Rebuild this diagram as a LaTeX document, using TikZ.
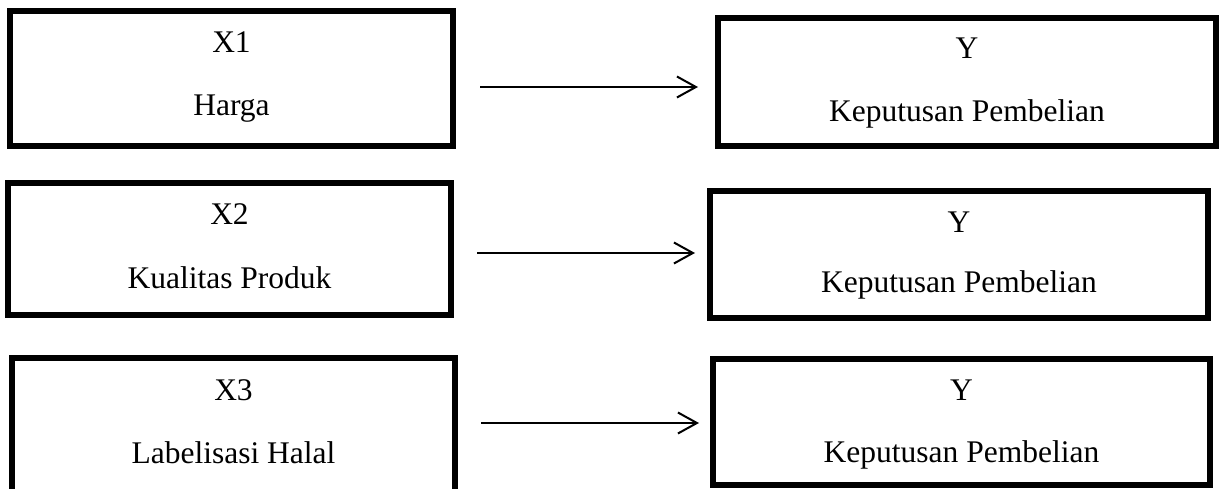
\documentclass[tikz,border=0pt]{standalone}
\usepackage{fontspec}
\setmainfont{Liberation Serif}
\usetikzlibrary{arrows.meta}

\begin{document}
\begin{tikzpicture}[x=1pt,y=-1pt,
  varbox/.style={draw=black, line width=5.5pt, inner sep=0pt, fill=white},
  lbl/.style={anchor=base, inner sep=0pt, font=\fontsize{31.5}{36}\selectfont},
  link/.style={line width=2pt, -{Straight Barb[length=19pt,width=21pt,line width=2pt]}}
]
\useasboundingbox (0,0) rectangle (1227,489);
\clip (0,0) rectangle (1227,489);

% independent variables (left column)
\node[varbox, minimum width=443pt, minimum height=135pt] (x1) at (231.5,78.5) {};
\node[varbox, minimum width=443pt, minimum height=132pt] (x2) at (229.5,249) {};
\node[varbox, minimum width=443pt, minimum height=137pt] (x3) at (233.5,426.5) {};

% dependent variable (right column)
\node[varbox, minimum width=498pt, minimum height=128pt] (y1) at (967,82) {};
\node[varbox, minimum width=498pt, minimum height=127pt] (y2) at (959,254.5) {};
\node[varbox, minimum width=497pt, minimum height=126pt] (y3) at (961.5,422) {};

% labels
\node[lbl] (x1a) at (x1.center |- 0,53)  {X1};
\node[lbl] (x1b) at (x1.center |- 0,116) {Harga};
\node[lbl] (x2a) at (x2.center |- 0,225) {X2};
\node[lbl] (x2b) at (x2.center |- 0,288) {Kualitas Produk};
\node[lbl] (x3a) at (x3.center |- 0,400) {X3};
\node[lbl] (x3b) at (x3.center |- 0,463) {Labelisasi Halal};

\node[lbl] (y1a) at (y1.center |- 0,59)  {Y};
\node[lbl] (y1b) at (y1.center |- 0,122) {Keputusan Pembelian};
\node[lbl] (y2a) at (y2.center |- 0,233) {Y};
\node[lbl] (y2b) at (y2.center |- 0,293) {Keputusan Pembelian};
\node[lbl] (y3a) at (y3.center |- 0,400) {Y};
\node[lbl] (y3b) at (y3.center |- 0,462) {Keputusan Pembelian};

% arrow end points
\coordinate (s1) at (480,87);  \coordinate (e1) at (698,87);
\coordinate (s2) at (477,253); \coordinate (e2) at (695,253);
\coordinate (s3) at (481,423); \coordinate (e3) at (699,423);

\draw[link] (s1) -- (e1);
\draw[link] (s2) -- (e2);
\draw[link] (s3) -- (e3);
\end{tikzpicture}
\end{document}
